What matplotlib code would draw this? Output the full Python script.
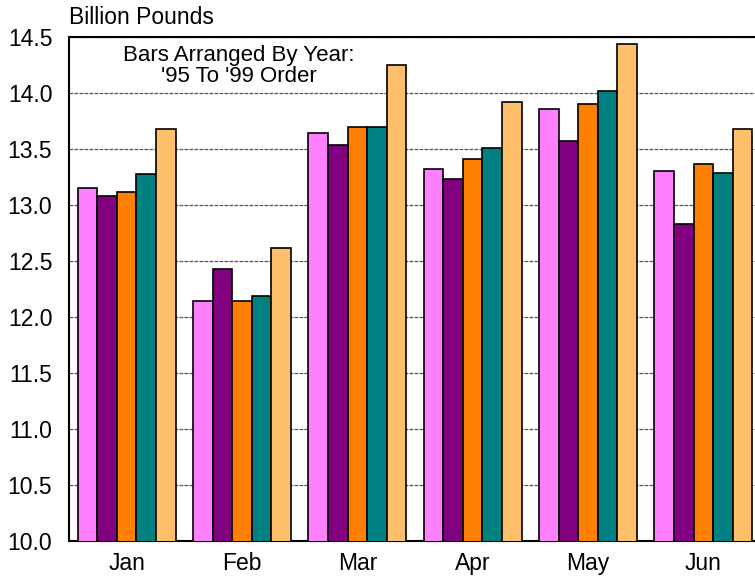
import numpy as np
import matplotlib.pyplot as plt

plt.rcParams['font.family'] = ['Liberation Sans', 'DejaVu Sans']

months = ['Jan', 'Feb', 'Mar', 'Apr', 'May', 'Jun']
years = ['1995', '1996', '1997', '1998', '1999']

y1995 = [13.15, 12.14, 13.64, 13.32, 13.86, 13.30]
y1996 = [13.08, 12.43, 13.54, 13.23, 13.57, 12.83]
y1997 = [13.12, 12.14, 13.70, 13.41, 13.90, 13.37]
y1998 = [13.28, 12.19, 13.70, 13.51, 14.02, 13.29]
y1999 = [13.68, 12.62, 14.25, 13.92, 14.44, 13.68]

series = [y1995, y1996, y1997, y1998, y1999]
colors = ['#FF80FF', '#800080', '#FF8000', '#008080', '#FFC06C']


def draw_chart():
    fig = plt.figure(figsize=(7.55, 5.76), dpi=100)
    # axes runs a bit past the right edge, like the original
    ax = fig.add_axes([69 / 755, 35 / 576, 692 / 755, 504 / 576])

    x = np.arange(len(months))
    width = 0.17
    for i, vals in enumerate(series):
        ax.bar(x + (i - 2) * width, vals, width, color=colors[i],
               edgecolor='black', linewidth=1.2, label=years[i], zorder=3)

    ax.set_ylim(10.0, 14.5)
    ax.set_xlim(-0.5, 5.5)
    ax.set_yticks(np.arange(10.0, 14.51, 0.5))
    ax.set_yticklabels([f'{v:.1f}' for v in np.arange(10.0, 14.51, 0.5)])
    ax.set_xticks(x)
    ax.set_xticklabels(months)
    ax.tick_params(axis='both', length=0, labelsize=16.5, colors='black')
    ax.tick_params(axis='x', pad=8)
    ax.tick_params(axis='y', pad=12)

    ax.yaxis.grid(True, linestyle=(0, (3, 1)), color='#555555', linewidth=0.9, zorder=0)
    ax.set_axisbelow(True)
    for s in ax.spines.values():
        s.set_linewidth(1.5)
        s.set_color('black')

    fig.text(69 / 755, 1 - 18 / 576, 'Billion Pounds', fontsize=16.5,
             ha='left', va='center')
    ax.text(0.245, 0.985, "Bars Arranged By Year:\n'95 To '99 Order",
            transform=ax.transAxes, fontsize=16, ha='center', va='top',
            linespacing=1.0)

    fig.savefig('out.png', dpi=100)


if __name__ == '__main__':
    draw_chart()
